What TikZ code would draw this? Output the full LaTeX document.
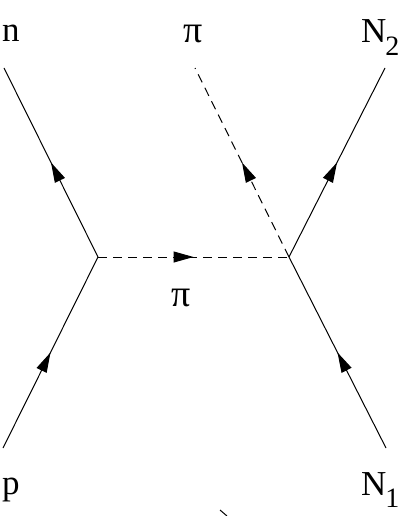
\documentclass[tikz,border=0pt]{standalone}
\usepackage{fontspec}
\setmainfont{Liberation Serif}
\usetikzlibrary{decorations.markings,arrows.meta}
\begin{document}
\begin{tikzpicture}[x=1pt,y=-1pt,
  fermion/.style={line width=1pt, postaction={decorate},
    decoration={markings, mark=at position 0.5 with {\arrow{Triangle[length=20pt,width=11pt]}}}},
  pion/.style={fermion, dash pattern=on 9pt off 6pt},
  lbl/.style={inner sep=0pt, anchor=base west, font=\fontsize{35}{35}\selectfont},
  lblc/.style={lbl, anchor=base, font=\fontsize{38}{38}\selectfont}]
\useasboundingbox (0,0) rectangle (403,516);
% vertices and external line ends
\coordinate (vL) at (98,257);
\coordinate (vR) at (289,257);
\coordinate (nE) at (4,68);
\coordinate (pE) at (3,448);
\coordinate (N2E) at (385,68);
\coordinate (N1E) at (386,448);
\coordinate (piE) at (195,68);
% lines
\draw[fermion] (pE) -- (vL);
\draw[fermion] (vL) -- (nE);
\draw[fermion] (N1E) -- (vR);
\draw[fermion] (vR) -- (N2E);
\draw[pion] (vL) -- (vR);
\draw[pion] (vR) -- (piE);
% labels
\node[lbl] (n) at (2,42) {n};
\node[lblc] (pitop) at (193,43) {π};
\node[lbl] (N2) at (361,43) {N\kern-1pt\raisebox{-13pt}{\fontsize{28}{28}\selectfont 2}};
\node[lblc] (pimid) at (181,306) {π};
\node[lbl] (p) at (2,494) {p};
\node[lbl] (N1) at (361,495) {N\kern-1pt\raisebox{-12pt}{\fontsize{28}{28}\selectfont 1}};
% small stray stroke
\coordinate (s1) at (220,510);
\coordinate (s2) at (227,516);
\draw[line width=1pt] (s1) -- (s2);
\end{tikzpicture}
\end{document}
